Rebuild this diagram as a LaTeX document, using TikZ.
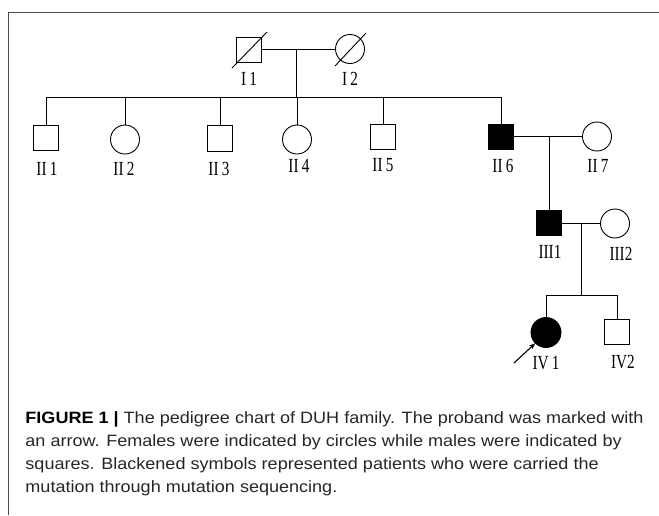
\documentclass[tikz,border=0pt]{standalone}
\usepackage{fontspec}
\setmainfont{Liberation Sans}[FakeStretch=1.1]
\newfontfamily\pedfont{Liberation Serif}[FakeStretch=0.76]
\usetikzlibrary{arrows.meta}

\tikzset{
  male/.style={draw, rectangle, minimum size=25.5pt, inner sep=0pt},
  female/.style={draw, circle, minimum size=29pt, inner sep=0pt},
  affected/.style={fill=black},
  plabel/.style={font=\pedfont\fontsize{20}{20}\selectfont, inner sep=0pt},
  captext/.style={anchor=base west, inner sep=0pt, text=black!85,
    font=\fontsize{16.4}{23}\selectfont}
}

\begin{document}
\begin{tikzpicture}[x=1pt,y=-1pt,line width=0.9pt]
    \useasboundingbox (0,0) rectangle (659,515);

    % frame
    \draw[black!70] (659,12) -- (8,12) -- (8,515);

    % generation I
    \node[male]   (I1) at (249,50) {};
    \node[female] (I2) at (350,49) {};
    \draw (I1.center) ++(-17,18) -- ++(35,-36);
    \draw (I2.center) ++(-15,17) -- ++(31,-33);
    \node[plabel] (lI1) at (249,79) {I\,1};
    \node[plabel] (lI2) at (350,79) {I\,2};
    \coordinate (m1) at (296,49);
    \draw (I1.east |- m1) -- (I2.west |- m1);

    % generation II
    \coordinate (s2) at (296,97);
    \node[male,affected] (II6) at (501,137) {};
    \node[female]        (II7) at (597,136.5) {};
    \draw (m1) -- (s2);
    \draw (II6.north) -- (II6.north |- s2) -- (46,97);
    \foreach \n/\x/\y/\s in {1/46/138/male, 2/125/139.5/female, 3/220/138.5/male,
                            4/297/139.5/female, 5/383/137/male} {
      \node[\s] (II\n) at (\x,\y) {};
      \draw (II\n.north) -- (II\n.north |- s2);
    }
    \foreach \n/\x/\y in {1/47/169, 2/124/169, 3/219/169, 4/299/166,
                         5/383/165, 6/503/166, 7/598/166} {
      \node[plabel] (lII\n) at (\x,\y) {II\,\n};
    }
    \coordinate (m2) at (549,136);
    \draw (II6.east |- m2) -- (II7.west |- m2);

    % generation III
    \node[male,affected] (III1) at (549,223) {};
    \node[female]        (III2) at (615,223.5) {};
    \node[plabel] (lIII1) at (550,252) {III1};
    \node[plabel] (lIII2) at (621,254) {III2};
    \draw (m2) -- (III1.north);
    \coordinate (m3) at (581,223);
    \draw (III1.east |- m3) -- (III2.west |- m3);

    % generation IV
    \coordinate (s4) at (581,295);
    \node[female,affected,minimum size=30pt] (IV1) at (546,332.5) {};
    \node[male]                              (IV2) at (617,332) {};
    \node[plabel] (lIV1) at (546,363) {IV\,1};
    \node[plabel] (lIV2) at (623,362) {IV2};
    \draw (m3) -- (s4);
    \draw (IV1.north) -- (IV1.north |- s4) -- (IV2.north |- s4) -- (IV2.north);

    % proband
    \coordinate (pb) at (514,363);
    \draw[line width=1.1pt,-{Stealth[length=6pt,width=5pt]}] (pb) -- (IV1.south west);

    % caption
    \node[captext] (cap1) at (25,423) {\textcolor{black}{\textbf{FIGURE 1 |}} The pedigree chart of DUH family. The proband was marked with};
    \node[captext] (cap2) at (25,446) {an arrow. Females were indicated by circles while males were indicated by};
    \node[captext] (cap3) at (25,469) {squares. Blackened symbols represented patients who were carried the};
    \node[captext] (cap4) at (25,492) {mutation through mutation sequencing.};
\end{tikzpicture}
\end{document}
